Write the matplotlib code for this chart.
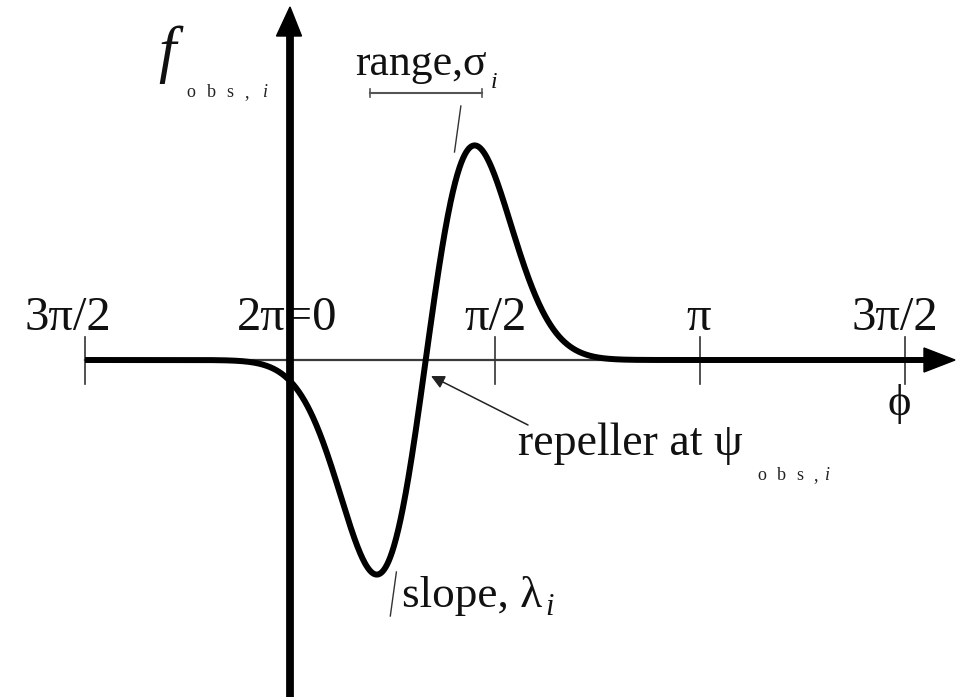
import numpy as np
import matplotlib
matplotlib.use("Agg")
import matplotlib.pyplot as plt
from matplotlib.patches import Polygon

# Phase axis ticks (radians) and their labels
tick_values = [-np.pi / 2, 0.0, np.pi / 2, np.pi, 3 * np.pi / 2]
tick_labels = ["3π/2", "2π=0", "π/2", "π", "3π/2"]
tick_label_shift_px = [-17, -3, 1, -1, -10]

# Forcelet parameters: repeller location, range and slope
psi_obs = 1.04
sigma = 0.375
lam = 4.45

# Extent of the drawn phase range
phi_start = -np.pi / 2
phi_end = 4.88

# Layout scale: pixels per radian / per unit of f, origin in pixels
XS, YS = 130.5, 212.0
X0_PX, Y0_PX = 290.0, 360.0
W_PX, H_PX = 957, 699


def X(px):
    return (px - X0_PX) / XS


def Y(py):
    return (Y0_PX - py) / YS


SERIF = "Liberation Serif"
plt.rcParams["font.family"] = [SERIF, "DejaVu Serif"]
INK = "#111111"

fig = plt.figure(figsize=(W_PX / 100, H_PX / 100), dpi=100)
ax = fig.add_axes([0, 0, 1, 1])
ax.set_xlim(X(0), X(W_PX))
ax.set_ylim(Y(H_PX), Y(0))
ax.axis("off")

# Horizontal phase axis with arrow head
ax.plot([phi_start, X(926)], [0, 0], color="#3a3a3a", lw=1.6, zorder=2)
ax.add_patch(Polygon([(X(924), 12 / YS), (X(924), -12 / YS), (X(955), 0)],
                     closed=True, color="black", zorder=4))

# Vertical f axis with arrow head
ax.plot([0, 0], [Y(697), Y(33)], color="black", lw=5.6,
        solid_capstyle="butt", zorder=5)
ax.add_patch(Polygon([(X(276.5), Y(36)), (X(301.5), Y(36)), (0, Y(7))],
                     closed=True, color="black", zorder=5))

# Ticks and tick labels
for v, lab, sh in zip(tick_values, tick_labels, tick_label_shift_px):
    ax.plot([v, v], [Y(337), Y(384)], color="#333333", lw=1.2, zorder=3)
    ax.text(v + sh / XS, Y(330), lab, ha="center", va="baseline",
            fontsize=35, color=INK)

# The forcelet curve
phi = np.linspace(phi_start, phi_end, 1500)
d = phi - psi_obs
f = lam * d * np.exp(-d ** 2 / (2 * sigma ** 2))
ax.plot(phi, f, color="black", lw=4.3, solid_capstyle="butt", zorder=4)

# Tangent at the repeller (slope lambda), visible beyond the curve
for fa, fb in [(Y(106), Y(152)), (Y(572), Y(616))]:
    ax.plot([psi_obs + fa / lam, psi_obs + fb / lam], [fa, fb],
            color="#333333", lw=1.0, zorder=3)

# Range bar
ax.plot([X(370), X(482)], [Y(93), Y(93)], color="#555555", lw=1.5)
for xp in (370, 482):
    ax.plot([X(xp), X(xp)], [Y(89), Y(97)], color="#555555", lw=1.2)

# Arrow pointing at the repeller
ax.annotate("", xy=(X(431), Y(376)), xytext=(X(528), Y(425)),
            arrowprops=dict(arrowstyle="-|>", color="#222222", lw=1.1,
                            mutation_scale=20, shrinkA=0, shrinkB=0))


def spaced_sub(xs, ybase, size):
    chars = ["o", "b", "s", ","]
    for c, xp in zip(chars, xs[:4]):
        ax.text(X(xp), Y(ybase), c, ha="center", va="baseline",
                fontsize=size, color="#222222")
    ax.text(X(xs[4]), Y(ybase), "i", ha="center", va="baseline",
            fontsize=size, style="italic", color="#222222")


# Axis names
ax.text(X(158), Y(70), "f", ha="left", va="baseline", fontsize=45,
        style="italic", color=INK)
spaced_sub([191, 211, 230, 247, 265], 97, 13)

ax.text(X(899), Y(404), "\u03d5", ha="center", va="center", fontsize=32,
        color=INK)

# Annotations
ax.text(X(355), Y(75), "range,σ", ha="left", va="baseline", fontsize=31.5,
        color=INK)
ax.text(X(494), Y(88), "i", ha="center", va="baseline", fontsize=17,
        style="italic", color=INK)

ax.text(X(518), Y(455), "repeller at ψ", ha="left", va="baseline",
        fontsize=33, color=INK)
spaced_sub([762, 781, 800, 816, 827], 480, 13)

ax.text(X(402), Y(607), "slope, λ", ha="left", va="baseline", fontsize=32.5,
        color=INK)
ax.text(X(550), Y(615), "i", ha="center", va="baseline", fontsize=22,
        style="italic", color=INK)

fig.savefig("out.png", dpi=100, facecolor="white")
